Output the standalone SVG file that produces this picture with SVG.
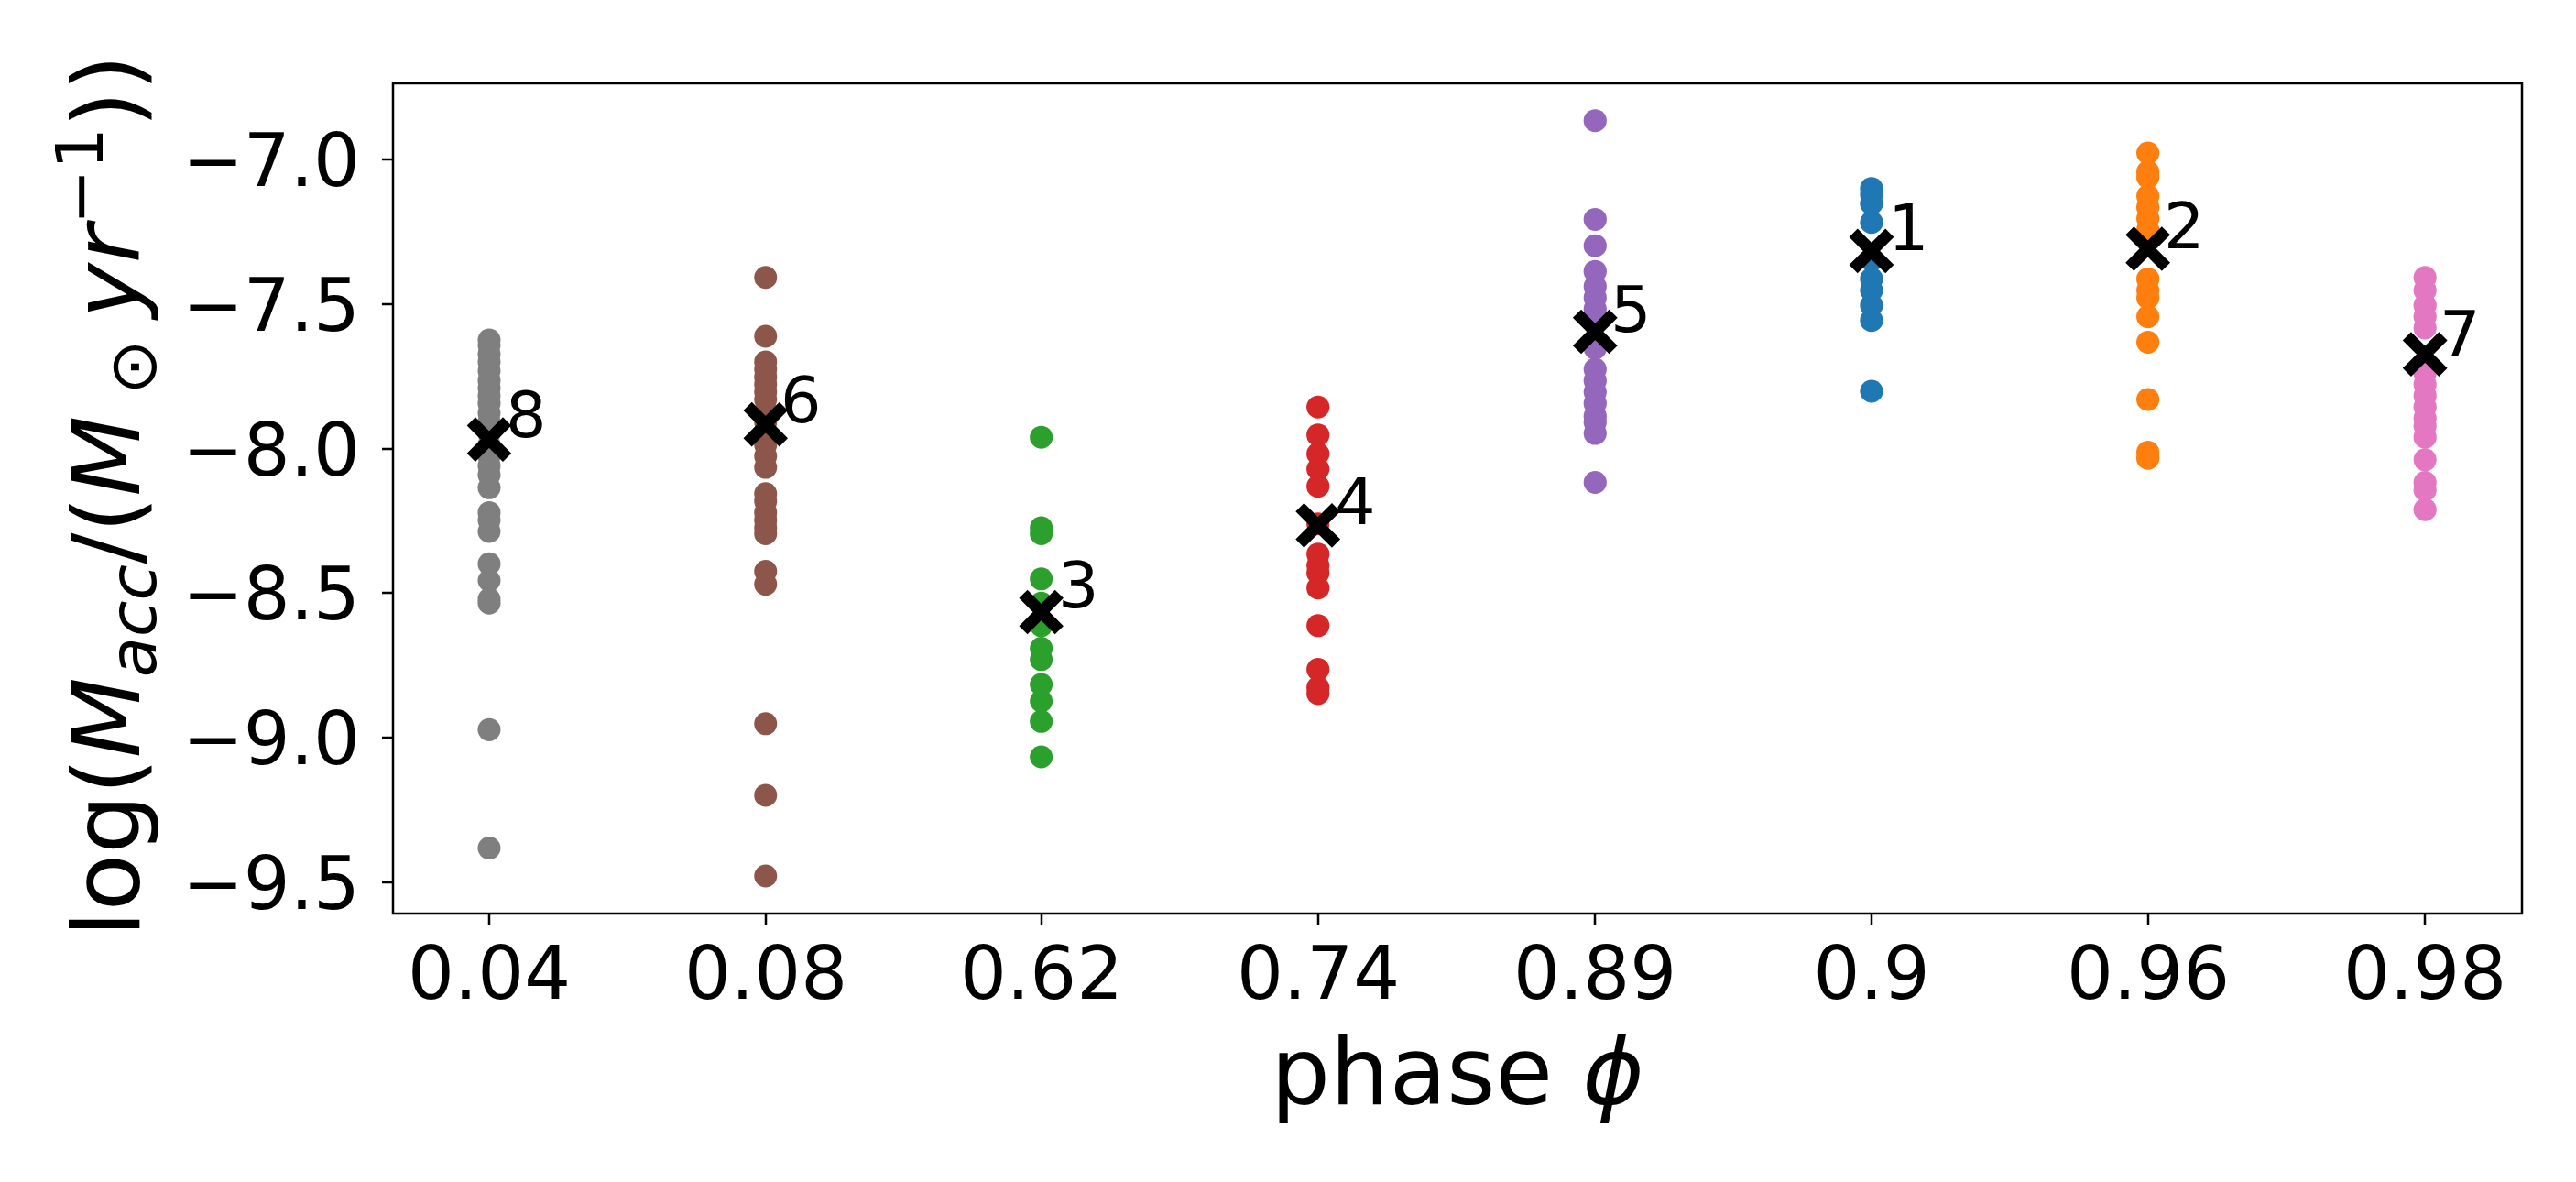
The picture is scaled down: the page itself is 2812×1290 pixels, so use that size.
<svg xmlns="http://www.w3.org/2000/svg" width="2812" height="1290" viewBox="0 0 2812 1290">
<style>
text{font-family:"DejaVu Sans",sans-serif;fill:#000}
.tk{font-size:80px}
.lb{font-size:102px}
.nm{font-size:70px}
.g1{fill:#1f77b4}.g2{fill:#ff7f0e}.g3{fill:#2ca02c}.g4{fill:#d62728}.g5{fill:#9467bd}.g6{fill:#8c564b}.g7{fill:#e377c2}.g8{fill:#7f7f7f}
</style>
<defs>
<g id="d"><ellipse rx="14" ry="15.2"/></g>
<g id="x"><path d="M-22,-24L22,24M-22,24L22,-24" stroke="#000" stroke-width="13" vector-effect="non-scaling-stroke"/></g>
</defs>
<rect width="2812" height="1290" fill="#fff"/>
<g id="axes" stroke="#000" stroke-width="2.5" fill="none">
<rect x="429" y="91" width="2324" height="906"/>
<path d="M429,174h-12M429,332h-12M429,490h-12M429,647h-12M429,805h-12M429,963h-12"/>
<path d="M534,997v12M836,997v12M1137,997v12M1439,997v12M1741,997v12M2043,997v12M2345,997v12M2647,997v12"/>
</g>
<g id="yticks" class="tk" text-anchor="end">
<text x="393" y="203">−7.0</text><text x="393" y="361">−7.5</text><text x="393" y="519">−8.0</text><text x="393" y="676">−8.5</text><text x="393" y="834">−9.0</text><text x="393" y="992">−9.5</text>
</g>
<g id="xticks" class="tk" text-anchor="middle">
<text x="534" y="1090">0.04</text><text x="836" y="1090">0.08</text><text x="1137" y="1090">0.62</text><text x="1439" y="1090">0.74</text><text x="1741" y="1090">0.89</text><text x="2043" y="1090">0.9</text><text x="2345" y="1090">0.96</text><text x="2647" y="1090">0.98</text>
</g>
<text class="lb" x="1591" y="1205" text-anchor="middle">phase <tspan font-style="italic">ϕ</tspan></text>
<text class="lb" transform="translate(152,541) rotate(-90)" text-anchor="middle">log(<tspan font-style="italic">M</tspan><tspan font-style="italic" font-size="72" dy="18">acc</tspan><tspan dy="-18">/(</tspan><tspan font-style="italic">M</tspan><tspan font-size="72" dy="18"> ⊙ </tspan><tspan dy="-18" font-style="italic">yr</tspan><tspan font-size="72" dy="-40">−1</tspan><tspan dy="40">))</tspan></text>
<g id="left" transform="scale(0.8929,0.8227)">
<g id="n8" class="g8">
<use href="#d" x="598" y="451"/><use href="#d" x="598" y="458"/><use href="#d" x="598" y="470"/><use href="#d" x="598" y="480"/><use href="#d" x="598" y="492"/><use href="#d" x="598" y="505"/><use href="#d" x="598" y="515"/><use href="#d" x="598" y="525"/><use href="#d" x="598" y="535"/><use href="#d" x="598" y="548"/><use href="#d" x="598" y="560"/><use href="#d" x="598" y="575"/><use href="#d" x="598" y="590"/><use href="#d" x="598" y="605"/><use href="#d" x="598" y="618"/><use href="#d" x="598" y="630"/><use href="#d" x="598" y="647"/><use href="#d" x="598" y="680"/><use href="#d" x="598" y="690"/><use href="#d" x="598" y="705"/><use href="#d" x="598" y="748"/><use href="#d" x="598" y="770"/><use href="#d" x="598" y="795"/><use href="#d" x="598" y="800"/><use href="#d" x="598" y="968"/><use href="#d" x="598" y="1125"/>
<use href="#x" x="598" y="583"/>
</g>
<g id="n6" class="g6">
<use href="#d" x="936" y="368"/><use href="#d" x="936" y="446"/><use href="#d" x="936" y="480"/><use href="#d" x="936" y="490"/><use href="#d" x="936" y="500"/><use href="#d" x="936" y="510"/><use href="#d" x="936" y="520"/><use href="#d" x="936" y="530"/><use href="#d" x="936" y="545"/><use href="#d" x="936" y="560"/><use href="#d" x="936" y="575"/><use href="#d" x="936" y="590"/><use href="#d" x="936" y="605"/><use href="#d" x="936" y="620"/><use href="#d" x="936" y="655"/><use href="#d" x="936" y="665"/><use href="#d" x="936" y="680"/><use href="#d" x="936" y="690"/><use href="#d" x="936" y="700"/><use href="#d" x="936" y="708"/><use href="#d" x="936" y="758"/><use href="#d" x="936" y="775"/><use href="#d" x="936" y="960"/><use href="#d" x="936" y="1055"/><use href="#d" x="936" y="1162"/>
<use href="#x" x="936" y="563"/>
</g>
<g id="n3" class="g3">
<use href="#d" x="1273" y="580"/><use href="#d" x="1273" y="700"/><use href="#d" x="1273" y="708"/><use href="#d" x="1273" y="768"/><use href="#d" x="1273" y="800"/><use href="#d" x="1273" y="830"/><use href="#d" x="1273" y="860"/><use href="#d" x="1273" y="875"/><use href="#d" x="1273" y="908"/><use href="#d" x="1273" y="930"/><use href="#d" x="1273" y="957"/><use href="#d" x="1273" y="1004"/>
<use href="#x" x="1273" y="812"/>
</g>
</g>
<g id="right" transform="translate(1400,0) scale(0.9005,0.8227)">
<g id="n4" class="g4">
<use href="#d" x="43" y="540"/><use href="#d" x="43" y="577"/><use href="#d" x="43" y="602"/><use href="#d" x="43" y="622"/><use href="#d" x="43" y="645"/><use href="#d" x="43" y="695"/><use href="#d" x="43" y="735"/><use href="#d" x="43" y="750"/><use href="#d" x="43" y="760"/><use href="#d" x="43" y="780"/><use href="#d" x="43" y="830"/><use href="#d" x="43" y="888"/><use href="#d" x="43" y="912"/><use href="#d" x="43" y="920"/>
<use href="#x" x="43" y="697"/>
</g>
<g id="n5" class="g5">
<use href="#d" x="379" y="160"/><use href="#d" x="379" y="291"/><use href="#d" x="379" y="326"/><use href="#d" x="379" y="360"/><use href="#d" x="379" y="380"/><use href="#d" x="379" y="395"/><use href="#d" x="379" y="410"/><use href="#d" x="379" y="420"/><use href="#d" x="379" y="462"/><use href="#d" x="379" y="490"/><use href="#d" x="379" y="505"/><use href="#d" x="379" y="520"/><use href="#d" x="379" y="535"/><use href="#d" x="379" y="552"/><use href="#d" x="379" y="560"/><use href="#d" x="379" y="575"/><use href="#d" x="379" y="640"/>
<use href="#x" x="379" y="440"/>
</g>
<g id="n1" class="g1">
<use href="#d" x="714" y="250"/><use href="#d" x="714" y="258"/><use href="#d" x="714" y="270"/><use href="#d" x="714" y="295"/><use href="#d" x="714" y="345"/><use href="#d" x="714" y="370"/><use href="#d" x="714" y="385"/><use href="#d" x="714" y="405"/><use href="#d" x="714" y="425"/><use href="#d" x="714" y="519"/>
<use href="#x" x="714" y="333"/>
</g>
<g id="n2" class="g2">
<use href="#d" x="1049" y="203"/><use href="#d" x="1049" y="228"/><use href="#d" x="1049" y="235"/><use href="#d" x="1049" y="260"/><use href="#d" x="1049" y="275"/><use href="#d" x="1049" y="290"/><use href="#d" x="1049" y="305"/><use href="#d" x="1049" y="370"/><use href="#d" x="1049" y="385"/><use href="#d" x="1049" y="395"/><use href="#d" x="1049" y="420"/><use href="#d" x="1049" y="454"/><use href="#d" x="1049" y="530"/><use href="#d" x="1049" y="600"/><use href="#d" x="1049" y="608"/>
<use href="#x" x="1049" y="330"/>
</g>
<g id="n7" class="g7">
<use href="#d" x="1385" y="368"/><use href="#d" x="1385" y="385"/><use href="#d" x="1385" y="405"/><use href="#d" x="1385" y="420"/><use href="#d" x="1385" y="435"/><use href="#d" x="1385" y="495"/><use href="#d" x="1385" y="510"/><use href="#d" x="1385" y="525"/><use href="#d" x="1385" y="540"/><use href="#d" x="1385" y="555"/><use href="#d" x="1385" y="565"/><use href="#d" x="1385" y="580"/><use href="#d" x="1385" y="610"/><use href="#d" x="1385" y="640"/><use href="#d" x="1385" y="650"/><use href="#d" x="1385" y="676"/>
<use href="#x" x="1385" y="470"/>
</g>
</g>
<g id="labels" class="nm">
<text x="552" y="477">8</text><text x="852" y="461">6</text><text x="1155" y="663">3</text><text x="1457" y="572">4</text><text x="1758" y="362">5</text><text x="2061" y="273">1</text><text x="2362" y="271">2</text><text x="2663" y="389">7</text>
</g>
</svg>
